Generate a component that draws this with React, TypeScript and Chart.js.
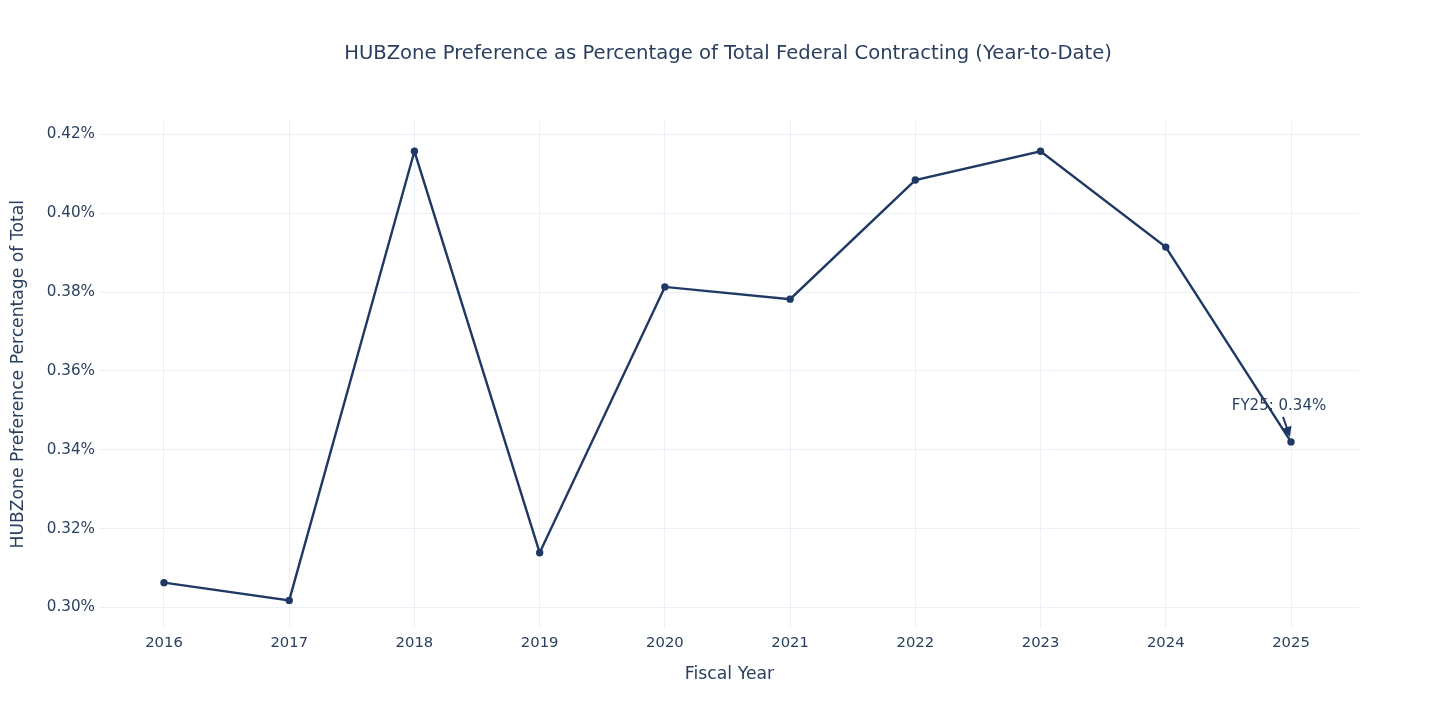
import React, { useEffect, useRef } from "react";
import { Chart, registerables } from "chart.js";

Chart.register(...registerables);

const YEARS = [2016, 2017, 2018, 2019, 2020, 2021, 2022, 2023, 2024, 2025];
const HUBZONE_PCT = [0.3063, 0.3018, 0.4157, 0.3139, 0.3813, 0.3782, 0.4084, 0.4157, 0.3914, 0.3420];
const Y_TICKS = [0.30, 0.32, 0.34, 0.36, 0.38, 0.40, 0.42];
const TITLE = "HUBZone Preference as Percentage of Total Federal Contracting (Year-to-Date)";
const X_TITLE = "Fiscal Year";
const Y_TITLE = "HUBZone Preference Percentage of Total";
const ANNOTATION_TEXT = "FY25: 0.34%";

const FONT = "'DejaVu Sans', Verdana, sans-serif";
const TEXT = "#2a3f5f";
const LINE = "#1f3864";
const GRID = "#EBF0F8";

const annotationPlugin = {
  id: "fyAnnotation",
  afterDatasetsDraw(chart: any) {
    const meta = chart.getDatasetMeta(0);
    const pt = meta.data[meta.data.length - 1];
    if (!pt) return;
    const px = pt.x;
    const py = pt.y;
    const ctx = chart.ctx;
    ctx.save();
    const tx = px - 8, ty = py - 25;
    const hx = px - 1, hy = py - 5;
    const ang = Math.atan2(hy - ty, hx - tx);
    ctx.strokeStyle = LINE;
    ctx.fillStyle = LINE;
    ctx.lineWidth = 2;
    ctx.beginPath();
    ctx.moveTo(tx, ty);
    ctx.lineTo(hx - 6 * Math.cos(ang), hy - 6 * Math.sin(ang));
    ctx.stroke();
    const hl = 10, hw = 5;
    const bx = hx - hl * Math.cos(ang), by = hy - hl * Math.sin(ang);
    ctx.beginPath();
    ctx.moveTo(hx, hy);
    ctx.lineTo(bx + hw * Math.sin(ang), by - hw * Math.cos(ang));
    ctx.lineTo(bx - hw * Math.sin(ang), by + hw * Math.cos(ang));
    ctx.closePath();
    ctx.fill();
    ctx.fillStyle = TEXT;
    ctx.font = `15px ${FONT}`;
    ctx.textAlign = "center";
    ctx.textBaseline = "middle";
    ctx.fillText(ANNOTATION_TEXT, px - 12, py - 36);
    ctx.restore();
  },
};

export default function App() {
  const canvasRef = useRef<HTMLCanvasElement | null>(null);

  useEffect(() => {
    document.body.style.margin = "0";
    const canvas = canvasRef.current;
    if (!canvas) return;
    const chart = new Chart(canvas, {
      type: "line",
      data: {
        datasets: [
          {
            data: YEARS.map((yr, i) => ({ x: yr, y: HUBZONE_PCT[i] })),
            yAxisID: "y",
            borderColor: LINE,
            backgroundColor: LINE,
            borderWidth: 2.4,
            pointRadius: 3.7,
            pointBackgroundColor: LINE,
            pointBorderColor: LINE,
            pointBorderWidth: 0,
            tension: 0,
            fill: false,
          },
        ],
      },
      options: {
        responsive: false,
        animation: false,
        events: [],
        layout: { padding: 0 },
        plugins: {
          legend: { display: false },
          tooltip: { enabled: false },
          title: {
            display: true,
            text: TITLE,
            color: TEXT,
            font: { family: FONT, size: 19.6, weight: "normal" },
            padding: { top: 42, bottom: 55 },
          },
        },
        scales: {
          x: {
            type: "linear",
            min: 2015.489,
            max: 2025.543,
            grid: { color: GRID, lineWidth: 1, drawTicks: false },
            border: { display: false },
            ticks: {
              color: TEXT,
              font: { family: FONT, size: 14.8 },
              padding: 6,
              maxRotation: 0,
              stepSize: 1,
              callback: (v: any) => String(v),
            },
            afterBuildTicks(scale: any) {
              scale.ticks = YEARS.map((v) => ({ value: v }));
            },
            title: {
              display: true,
              text: X_TITLE,
              color: TEXT,
              font: { family: FONT, size: 17.3 },
              padding: { top: 0, bottom: 43.6 },
            },
            afterFit(scale: any) {
              scale.height = 100;
            },
          },
          y: {
            type: "linear",
            position: "left",
            min: 0.2948,
            max: 0.4235,
            grid: { color: GRID, lineWidth: 1, drawTicks: false },
            border: { display: false },
            ticks: {
              color: TEXT,
              font: { family: FONT, size: 15.2 },
              padding: 5,
              callback: (v: any) => Number(v).toFixed(2) + "%",
            },
            afterBuildTicks(scale: any) {
              scale.ticks = Y_TICKS.map((v) => ({ value: v }));
            },
            title: {
              display: true,
              text: Y_TITLE,
              color: TEXT,
              font: { family: FONT, size: 17.2 },
              padding: { top: 8.5, bottom: 0 },
            },
            afterFit(scale: any) {
              scale.width = 100;
            },
          },
          yRight: {
            type: "linear",
            position: "right",
            display: true,
            grid: { display: false, drawTicks: false },
            border: { display: false },
            ticks: { display: false },
            afterFit(scale: any) {
              scale.width = 97;
            },
          },
        },
      },
      plugins: [annotationPlugin],
    });
    return () => chart.destroy();
  }, []);

  return (
    <div style={{ position: "absolute", left: 0, top: 0, width: 1456, height: 728, background: "#fff" }}>
      <canvas ref={canvasRef} width={1456} height={728} style={{ width: 1456, height: 728 }} />
    </div>
  );
}
